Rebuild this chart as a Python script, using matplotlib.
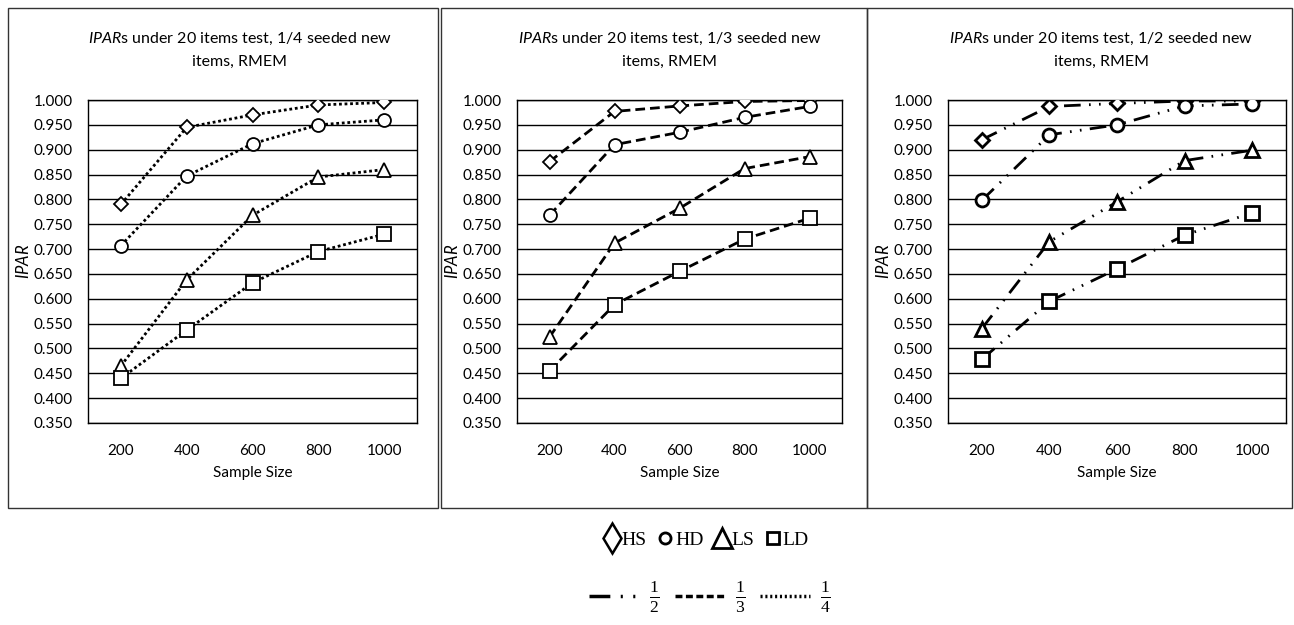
import numpy as np
import matplotlib
matplotlib.use("Agg")
import matplotlib.pyplot as plt
from matplotlib.lines import Line2D
from matplotlib.patches import Rectangle

plt.rcParams['font.family'] = ['Lato', 'DejaVu Sans']
plt.rcParams['mathtext.fontset'] = 'custom'
plt.rcParams['mathtext.it'] = 'Lato:italic'
plt.rcParams['mathtext.rm'] = 'Liberation Serif'

sizes = ['200', '400', '600', '800', '1000']
groups = ['HS', 'HD', 'LS', 'LD']
fractions = ['1/4', '1/3', '1/2']

# IPAR values, one dict per panel
ipar_quarter = {
    'HS': [0.790, 0.945, 0.970, 0.990, 0.995],
    'HD': [0.707, 0.847, 0.912, 0.950, 0.960],
    'LS': [0.465, 0.638, 0.768, 0.845, 0.860],
    'LD': [0.440, 0.537, 0.632, 0.695, 0.730],
}
ipar_third = {
    'HS': [0.876, 0.977, 0.988, 0.997, 0.999],
    'HD': [0.768, 0.910, 0.935, 0.965, 0.987],
    'LS': [0.523, 0.712, 0.782, 0.862, 0.886],
    'LD': [0.455, 0.588, 0.655, 0.720, 0.762],
}
ipar_half = {
    'HS': [0.920, 0.987, 0.993, 0.998, 0.998],
    'HD': [0.798, 0.930, 0.950, 0.988, 0.992],
    'LS': [0.540, 0.715, 0.795, 0.878, 0.899],
    'LD': [0.478, 0.595, 0.660, 0.728, 0.773],
}
panel_data = [ipar_quarter, ipar_third, ipar_half]

markers = {'HS': 'D', 'HD': 'o', 'LS': '^', 'LD': 's'}
msizes = {'HS': 7.2, 'HD': 9.3, 'LS': 9.5, 'LD': 9.5}
styles = [(0, (1, 1)), (0, (3.5, 1.8)), (0, (6, 3, 0.6, 3, 0.6, 3))]
mews = [1.3, 1.3, 2.0]

W, H = 1294, 625
fig = plt.figure(figsize=(W / 100, H / 100), dpi=100)

# pixel boxes: (frame left, frame right, axes left, axes right, title centre)
boxes = [(8, 438, 88, 417, 240), (441, 867, 517, 842, 670), (867, 1292, 948, 1286, 1101)]
ax_top, ax_bot = 100, 423

for i, (fl, fr, al, ar, tc) in enumerate(boxes):
    fig.patches.append(Rectangle((fl / W, 1 - 508 / H), (fr - fl) / W, 500 / H,
                                 transform=fig.transFigure, fill=False,
                                 edgecolor='#333333', lw=1.0))
    ax = fig.add_axes([al / W, 1 - ax_bot / H, (ar - al) / W, (ax_bot - ax_top) / H])
    x = np.arange(len(sizes))
    for g in groups:
        ax.plot(x, panel_data[i][g], linestyle=styles[i], color='black', lw=2,
                marker=markers[g], markersize=msizes[g], markerfacecolor='white',
                markeredgecolor='black', markeredgewidth=mews[i], zorder=3)
    ax.set_xlim(-0.5, len(sizes) - 0.5)
    ax.set_ylim(0.35, 1.0)
    ax.set_yticks(np.arange(0.35, 1.0001, 0.05))
    ax.set_yticklabels([f'{v:.3f}' for v in np.arange(0.35, 1.0001, 0.05)])
    ax.set_xticks(x)
    ax.set_xticklabels(sizes)
    ax.tick_params(axis='both', length=0, labelsize=11)
    ax.tick_params(axis='y', pad=11)
    ax.tick_params(axis='x', pad=15)
    ax.yaxis.grid(True, color='black', lw=1)
    ax.set_axisbelow(True)
    for s in ax.spines.values():
        s.set_color('black')
        s.set_linewidth(1)
    ax.set_xlabel('Sample Size', fontsize=11, labelpad=6)
    ax.set_ylabel('$\\it{IPAR}$', fontsize=12, labelpad=1)
    tx = (tc - al) / (ar - al)
    ax.text(tx, 1 + 50 / (ax_bot - ax_top),
            f'$\\it{{IPAR}}$s under 20 items test, {fractions[i]} seeded new\nitems, RMEM',
            transform=ax.transAxes, ha='center', va='center', fontsize=11.5,
            linespacing=1.7)

# legend: marker row
mk_handles = [Line2D([], [], linestyle='none', marker='d', markersize=15,
                     markerfacecolor='white', markeredgecolor='black', markeredgewidth=1.8),
              Line2D([], [], linestyle='none', marker='o', markersize=8,
                     markerfacecolor='white', markeredgecolor='black', markeredgewidth=2),
              Line2D([], [], linestyle='none', marker='^', markersize=14,
                     markerfacecolor='white', markeredgecolor='black', markeredgewidth=2),
              Line2D([], [], linestyle='none', marker='s', markersize=8,
                     markerfacecolor='white', markeredgecolor='black', markeredgewidth=2)]
fig.legend(mk_handles, groups, loc='center', bbox_to_anchor=(706 / W, 1 - 540 / H),
           ncol=4, frameon=False, handlelength=0.9, handletextpad=0.05, columnspacing=0.5,
           prop={'family': 'Liberation Serif', 'size': 14})

ln_handles = [Line2D([], [], color='black', lw=2.5, linestyle=styles[2]),
              Line2D([], [], color='black', lw=2.5, linestyle=(0, (2, 1))),
              Line2D([], [], color='black', lw=2.5, linestyle=(0, (0.6, 0.8)))]
ln_labels = ['$\\frac{1}{2}$', '$\\frac{1}{3}$', '$\\frac{1}{4}$']
fig.legend(ln_handles, ln_labels, loc='center', bbox_to_anchor=(710 / W, 1 - 597 / H),
           ncol=3, frameon=False, handlelength=2.0, handletextpad=0.4, columnspacing=0.6,
           prop={'size': 18})

fig.savefig('out.png', dpi=100)
